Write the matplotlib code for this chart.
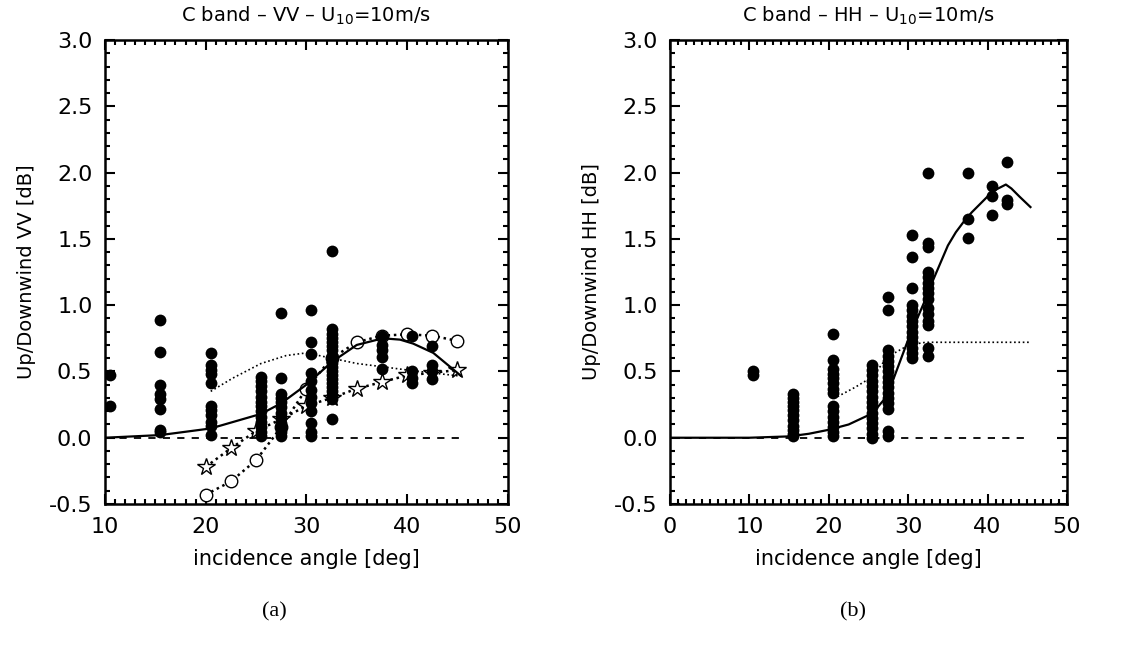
import numpy as np
import matplotlib
matplotlib.use('Agg')
import matplotlib.pyplot as plt
from matplotlib.ticker import MultipleLocator

# --- data ---
# (a) VV: measured points, column x -> y values
vv_cols_x = [10.5, 15.5, 20.5, 25.5, 27.5, 30.5, 32.5, 37.5, 40.5, 42.5]
vv_cols_y = [
    [0.47, 0.24],
    [0.89, 0.65, 0.40, 0.33, 0.29, 0.22, 0.06, 0.04],
    [0.64, 0.55, 0.51, 0.48, 0.41, 0.24, 0.21, 0.17, 0.12, 0.09, 0.02],
    [0.46, 0.43, 0.39, 0.35, 0.31, 0.27, 0.24, 0.20, 0.16, 0.12, 0.08, 0.04, 0.01],
    [0.94, 0.45, 0.33, 0.30, 0.27, 0.23, 0.19, 0.15, 0.11, 0.07, 0.04, 0.01],
    [0.96, 0.72, 0.63, 0.49, 0.43, 0.36, 0.31, 0.26, 0.20, 0.11, 0.04, 0.01],
    [1.41, 0.82, 0.78, 0.75, 0.72, 0.69, 0.66, 0.62, 0.59, 0.56, 0.53, 0.50,
     0.47, 0.44, 0.41, 0.38, 0.35, 0.32, 0.29, 0.14],
    [0.77, 0.70, 0.66, 0.61, 0.52],
    [0.77, 0.50, 0.45, 0.41],
    [0.69, 0.55, 0.50, 0.44],
]
vv_model_x = [10, 15.5, 20.5, 25.5, 27.5, 30, 32.5, 35, 37.6, 39.3, 40.6, 42.6, 45.3]
vv_model_y = [0.0, 0.02, 0.07, 0.18, 0.26, 0.40, 0.57, 0.70, 0.75, 0.74, 0.71, 0.64, 0.47]
vv_dot_x = [20.5, 22.7, 25.5, 28, 30, 32.5, 35, 37.6, 40.6, 45.3]
vv_dot_y = [0.35, 0.45, 0.56, 0.62, 0.64, 0.60, 0.56, 0.535, 0.505, 0.465]
vv_circ_x = [20, 22.5, 25, 27.5, 30, 32.5, 35, 37.5, 40, 42.5, 45]
vv_circ_y = [-0.43, -0.33, -0.17, 0.08, 0.37, 0.60, 0.72, 0.77, 0.78, 0.77, 0.73]
vv_star_x = [20, 22.5, 25, 27.5, 30, 32.5, 35, 37.5, 40, 42.5, 45]
vv_star_y = [-0.22, -0.08, 0.05, 0.14, 0.24, 0.30, 0.37, 0.42, 0.47, 0.49, 0.51]

# (b) HH
hh_cols_x = [10.5, 15.5, 20.5, 25.5, 27.5, 30.5, 32.5, 37.5, 40.5, 42.5]
hh_cols_y = [
    [0.50, 0.47],
    [0.33, 0.30, 0.27, 0.24, 0.21, 0.17, 0.13, 0.09, 0.06, 0.03, 0.01],
    [0.78, 0.59, 0.52, 0.48, 0.45, 0.41, 0.37, 0.34, 0.24, 0.20, 0.16, 0.12,
     0.08, 0.04, 0.01],
    [0.55, 0.51, 0.47, 0.43, 0.39, 0.35, 0.31, 0.27, 0.23, 0.19, 0.15, 0.11,
     0.07, 0.03, 0.0],
    [1.06, 0.96, 0.66, 0.62, 0.58, 0.54, 0.50, 0.46, 0.42, 0.38, 0.34, 0.30,
     0.26, 0.22, 0.05, 0.01],
    [1.53, 1.36, 1.13, 1.00, 0.96, 0.92, 0.88, 0.84, 0.80, 0.76, 0.72, 0.68,
     0.64, 0.60],
    [2.00, 1.47, 1.44, 1.25, 1.21, 1.17, 1.13, 1.09, 1.05, 0.98, 0.93, 0.88,
     0.85, 0.68, 0.62],
    [2.00, 1.65, 1.51],
    [1.90, 1.82, 1.68],
    [2.08, 1.79, 1.76],
]
hh_model_x = [0, 5, 10, 15, 17.5, 20, 22.5, 25, 26, 27, 28, 29, 30, 31, 32, 33,
              34, 35, 36, 37, 38, 39, 40, 41, 42.3, 43, 44, 45.4]
hh_model_y = [0, 0, 0, 0.01, 0.03, 0.06, 0.10, 0.17, 0.22, 0.29, 0.42, 0.58,
              0.74, 0.88, 1.02, 1.17, 1.31, 1.45, 1.55, 1.63, 1.70, 1.76, 1.82,
              1.87, 1.91, 1.88, 1.82, 1.74]
hh_dot_x = [21.1, 23.3, 25.5, 27.4, 30.1, 32.2, 35, 40, 45.4]
hh_dot_y = [0.31, 0.38, 0.46, 0.61, 0.70, 0.72, 0.72, 0.72, 0.72]

plt.rcParams['font.family'] = 'DejaVu Sans'
fig = plt.figure(figsize=(11.31, 6.5), dpi=100)
ax1 = fig.add_axes([0.0928, 0.2246, 0.3562, 0.7138])
ax2 = fig.add_axes([0.5924, 0.2246, 0.3510, 0.7138])


def style(ax, xlim, ylabel, title):
    ax.set_xlim(*xlim)
    ax.set_ylim(-0.5, 3.0)
    ax.xaxis.set_major_locator(MultipleLocator(10))
    ax.xaxis.set_minor_locator(MultipleLocator(1))
    ax.yaxis.set_major_locator(MultipleLocator(0.5))
    ax.yaxis.set_minor_locator(MultipleLocator(0.1))
    ax.yaxis.set_major_formatter(matplotlib.ticker.FormatStrFormatter('%.1f'))
    ax.tick_params(which='both', direction='in', top=True, right=True,
                   labelsize=16, width=1.5)
    ax.tick_params(which='major', length=7, pad=9)
    ax.tick_params(which='minor', length=3.5)
    for s in ax.spines.values():
        s.set_linewidth(1.8)
    ax.set_xlabel('incidence angle [deg]', fontsize=15, labelpad=9)
    ax.set_ylabel(ylabel, fontsize=14, labelpad=9)
    ax.set_title(title, fontsize=14, pad=13)


def scatter_cols(ax, cols_x, cols_y):
    for x, ys in zip(cols_x, cols_y):
        ax.plot([x] * len(ys), ys, 'o', color='black', ms=8.5, mew=0, zorder=6)


# (a)
ax = ax1
ax.plot([10, 45.5], [0, 0], '--', color='black', lw=1.3, dashes=(4, 4))
ax.plot(vv_model_x, vv_model_y, '-', color='black', lw=1.6, zorder=5)
ax.plot(vv_dot_x, vv_dot_y, color='black', lw=1.2, dashes=(1, 1.6))
scatter_cols(ax, vv_cols_x, vv_cols_y)
ax.plot(vv_circ_x, vv_circ_y, color='black', lw=1.8, dashes=(1, 1.5),
        marker='o', ms=9, mfc='white', mec='black', mew=1.0, zorder=4)
ax.plot(vv_star_x, vv_star_y, color='black', lw=1.8, dashes=(1, 1.5),
        marker='*', ms=13, mfc='white', mec='black', mew=1.0, zorder=4)
style(ax, (10, 50), 'Up/Downwind VV [dB]',
      'C band \u2013 VV \u2013 U$_{10}$=10m/s')

# (b)
ax = ax2
ax.plot([0, 45.5], [0, 0], '--', color='black', lw=1.3, dashes=(4, 4))
ax.plot(hh_model_x, hh_model_y, '-', color='black', lw=1.6, zorder=7)
ax.plot(hh_dot_x, hh_dot_y, color='black', lw=1.2, dashes=(1, 1.6))
scatter_cols(ax, hh_cols_x, hh_cols_y)
style(ax, (0, 50), 'Up/Downwind HH [dB]',
      'C band \u2013 HH \u2013 U$_{10}$=10m/s')

fig.text(0.243, 0.058, '(a)', fontsize=16, family='Liberation Serif',
         ha='center', va='center')
fig.text(0.754, 0.058, '(b)', fontsize=16, family='Liberation Serif',
         ha='center', va='center')

fig.savefig('out.png', dpi=100, facecolor='white')
